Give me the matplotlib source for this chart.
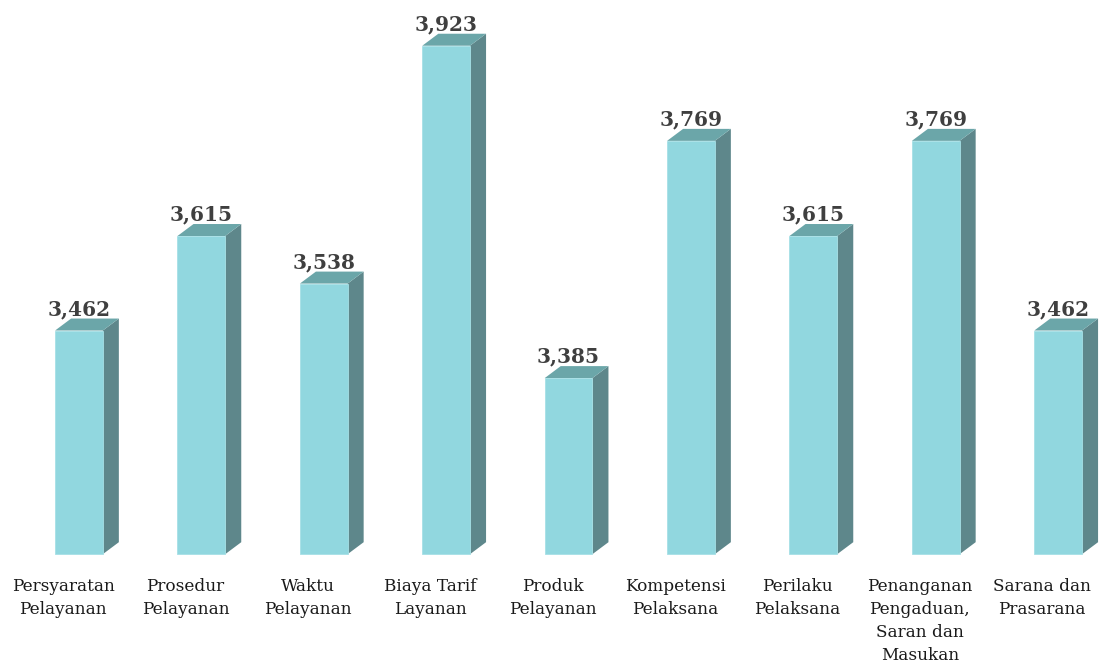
import numpy as np
import matplotlib.pyplot as plt
from matplotlib.transforms import offset_copy

categories = ['Persyaratan\nPelayanan', 'Prosedur\nPelayanan', 'Waktu\nPelayanan',
              'Biaya Tarif\nLayanan', 'Produk\nPelayanan', 'Kompetensi\nPelaksana',
              'Perilaku\nPelaksana', 'Penanganan\nPengaduan,\nSaran dan\nMasukan',
              'Sarana dan\nPrasarana']
values = [3.462, 3.615, 3.538, 3.923, 3.385, 3.769, 3.615, 3.769, 3.462]
labels = ['3,462', '3,615', '3,538', '3,923', '3,385', '3,769', '3,615', '3,769', '3,462']

base = 3.1
front_col = '#91D7DF'
side_col = '#5E878B'
top_col = '#6BA6A9'

fig = plt.figure(figsize=(11.01, 6.66), dpi=100)
ax = fig.add_axes([0, 0, 1, 1])
ax.set_xlim(-0.515, 8.48)
ax.set_ylim(2.919, 3.997)
ax.axis('off')

w = 0.39      # front width
off = 0.13    # bar shifted right of the label centre
dx = 0.131    # depth in x
dy = 0.0194   # depth in y

x = np.arange(len(values))
xc = x + off
ax.bar(xc, np.array(values) - base, width=w, bottom=base, color=front_col,
       edgecolor='#A6E0E6', linewidth=0.6, zorder=3)
for xi, v in zip(xc, values):
    l, r = xi - w / 2, xi + w / 2
    # side face
    ax.fill([r, r + dx, r + dx, r], [base, base + dy, v + dy, v], color=side_col, zorder=2, lw=0)
    # top face
    ax.fill([l, r, r + dx, l + dx], [v, v, v + dy, v + dy], color=top_col, zorder=2, lw=0)

for xi, v, lab in zip(xc, values, labels):
    ax.text(xi, v + dy - 0.001, lab, ha='center', va='bottom', fontsize=14.5,
            fontweight='heavy', family='DejaVu Serif', color='#3f3f3f')

tr = offset_copy(ax.transData, fig=fig, y=-24, units='dots')
for xi, cat in zip(x, categories):
    ax.text(xi, base, cat, ha='center', va='top', fontsize=12.2, family='DejaVu Serif',
            color='#1a1a1a', linespacing=1.45, transform=tr)

plt.savefig('out.png', dpi=100)
